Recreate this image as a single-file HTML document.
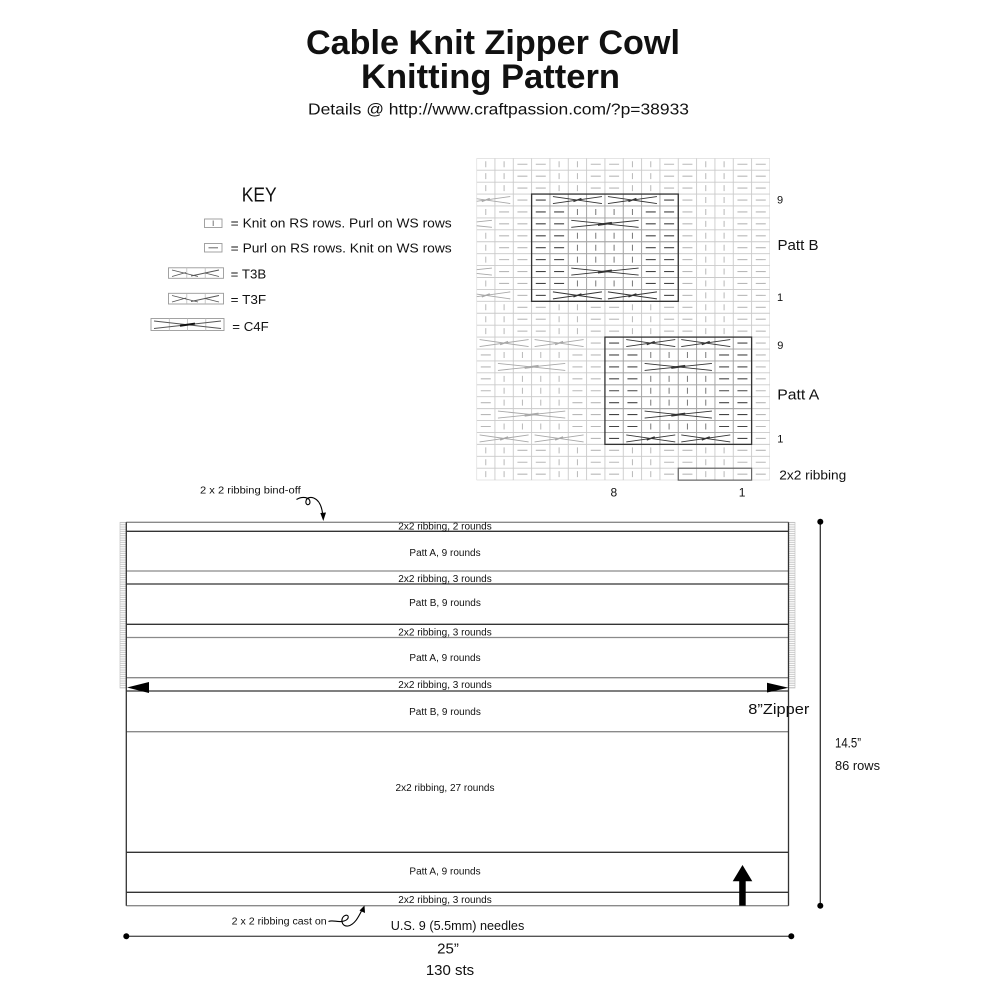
<!DOCTYPE html>
<html><head><meta charset="utf-8"><style>
html,body{margin:0;padding:0;background:#fff;}
svg{display:block;}
text{font-family:"Liberation Sans",Arial,sans-serif;fill:#111;}
</style></head><body>
<svg width="1000" height="1000" viewBox="0 0 1000 1000">
<defs>
<pattern id="hatch" x="0" y="522" width="1000" height="2.2" patternUnits="userSpaceOnUse"><line x1="0" y1="0.6" x2="1000" y2="0.6" stroke="#b8b8b8" stroke-width="0.8"/></pattern>
<clipPath id="chartclip"><rect x="476.6" y="158.3" width="293.3" height="321.9"/></clipPath>
</defs>
<rect width="1000" height="1000" fill="#fff"/>

<!-- Title -->
<text x="306" y="54" font-size="34" font-weight="bold" textLength="374" lengthAdjust="spacingAndGlyphs">Cable Knit Zipper Cowl</text>
<text x="361" y="88" font-size="34" font-weight="bold" textLength="259" lengthAdjust="spacingAndGlyphs">Knitting Pattern</text>
<text x="308" y="114.5" font-size="16" textLength="381" lengthAdjust="spacingAndGlyphs">Details @ http://www.craftpassion.com/?p=38933</text>

<!-- KEY -->
<text x="241.7" y="201.5" font-size="20" textLength="35" lengthAdjust="spacingAndGlyphs">KEY</text>
<rect x="204.5" y="219" width="17.5" height="8.5" fill="none" stroke="#999" stroke-width="0.9"/>
<line x1="213.2" y1="220.5" x2="213.2" y2="226" stroke="#777" stroke-width="1"/>
<text x="230.7" y="227.7" font-size="13" textLength="221" lengthAdjust="spacingAndGlyphs">= Knit on RS rows. Purl on WS rows</text>
<rect x="204.5" y="243.5" width="17.5" height="8.5" fill="none" stroke="#999" stroke-width="0.9"/>
<line x1="208.5" y1="247.8" x2="218" y2="247.8" stroke="#666" stroke-width="1"/>
<text x="230.7" y="252.3" font-size="13" textLength="221" lengthAdjust="spacingAndGlyphs">= Purl on RS rows. Knit on WS rows</text>

<rect x="168.5" y="267.8" width="55" height="10.5" fill="none" stroke="#999" stroke-width="0.9"/>
<line x1="186.8" y1="267.8" x2="186.8" y2="278.3" stroke="#bbb" stroke-width="0.8"/>
<line x1="205.2" y1="267.8" x2="205.2" y2="278.3" stroke="#bbb" stroke-width="0.8"/>
<line x1="172" y1="270" x2="198" y2="276.5" stroke="#555" stroke-width="0.9"/>
<line x1="172" y1="276.5" x2="186" y2="272.5" stroke="#555" stroke-width="0.9"/>
<line x1="191" y1="276" x2="219" y2="270" stroke="#555" stroke-width="0.9"/>
<line x1="205" y1="273" x2="219" y2="276.5" stroke="#555" stroke-width="0.9"/>
<text x="230.7" y="278.3" font-size="13" textLength="35.5" lengthAdjust="spacingAndGlyphs">= T3B</text>

<rect x="168.5" y="293.3" width="55" height="10.7" fill="none" stroke="#999" stroke-width="0.9"/>
<line x1="186.8" y1="293.3" x2="186.8" y2="304" stroke="#bbb" stroke-width="0.8"/>
<line x1="205.2" y1="293.3" x2="205.2" y2="304" stroke="#bbb" stroke-width="0.8"/>
<line x1="172" y1="295.5" x2="198" y2="302" stroke="#555" stroke-width="0.9"/>
<line x1="172" y1="302" x2="186" y2="298" stroke="#555" stroke-width="0.9"/>
<line x1="191" y1="301.5" x2="219" y2="295.5" stroke="#555" stroke-width="0.9"/>
<line x1="205" y1="298.5" x2="219" y2="302" stroke="#555" stroke-width="0.9"/>
<text x="230.7" y="304" font-size="13" textLength="35.5" lengthAdjust="spacingAndGlyphs">= T3F</text>

<rect x="151" y="318.5" width="73" height="12" fill="none" stroke="#999" stroke-width="0.9"/>
<line x1="169.3" y1="318.5" x2="169.3" y2="330.5" stroke="#bbb" stroke-width="0.8"/>
<line x1="187.5" y1="318.5" x2="187.5" y2="330.5" stroke="#bbb" stroke-width="0.8"/>
<line x1="205.8" y1="318.5" x2="205.8" y2="330.5" stroke="#bbb" stroke-width="0.8"/>
<line x1="154" y1="321" x2="221" y2="328.5" stroke="#555" stroke-width="0.9"/>
<line x1="154" y1="328.5" x2="221" y2="321" stroke="#555" stroke-width="0.9"/>
<line x1="180" y1="325.8" x2="195" y2="323.6" stroke="#111" stroke-width="2"/>
<text x="232.3" y="331" font-size="13" textLength="36.4" lengthAdjust="spacingAndGlyphs">= C4F</text>

<!-- Chart -->
<g id="chart" clip-path="url(#chartclip)"></g>
<rect x="531.6" y="194.06" width="146.67" height="107.28" fill="none" stroke="#333" stroke-width="1.3"/>
<rect x="604.93" y="337.1" width="146.67" height="107.28" fill="none" stroke="#333" stroke-width="1.3"/>
<rect x="678.26" y="468.22" width="73.33" height="11.92" fill="none" stroke="#666" stroke-width="1.2"/>

<text x="777" y="203.5" font-size="11">9</text>
<text x="777.5" y="250" font-size="15" textLength="41" lengthAdjust="spacingAndGlyphs">Patt B</text>
<text x="777" y="301" font-size="11">1</text>
<text x="777.3" y="349" font-size="11">9</text>
<text x="777.3" y="399.3" font-size="15" textLength="42" lengthAdjust="spacingAndGlyphs">Patt A</text>
<text x="777.3" y="442.5" font-size="11">1</text>
<text x="779.3" y="479.5" font-size="13" textLength="67" lengthAdjust="spacingAndGlyphs">2x2 ribbing</text>
<text x="610.5" y="496.7" font-size="12">8</text>
<text x="738.8" y="496.7" font-size="12">1</text>

<!-- Schematic -->
<rect x="120" y="522.3" width="6.3" height="165.7" fill="url(#hatch)" stroke="#c4c4c4" stroke-width="0.7"/>
<rect x="788.5" y="522.3" width="6.5" height="165.7" fill="url(#hatch)" stroke="#c4c4c4" stroke-width="0.7"/>

<g stroke-width="1.3">
<line x1="126.3" y1="522.3" x2="788.5" y2="522.3" stroke="#8a8a8a"/>
<line x1="126.3" y1="531.3" x2="788.5" y2="531.3" stroke="#333"/>
<line x1="126.3" y1="571" x2="788.5" y2="571" stroke="#8a8a8a"/>
<line x1="126.3" y1="584" x2="788.5" y2="584" stroke="#333"/>
<line x1="126.3" y1="624.3" x2="788.5" y2="624.3" stroke="#333"/>
<line x1="126.3" y1="637.5" x2="788.5" y2="637.5" stroke="#8a8a8a"/>
<line x1="126.3" y1="677.7" x2="788.5" y2="677.7" stroke="#8a8a8a"/>
<line x1="126.3" y1="691" x2="788.5" y2="691" stroke="#333"/>
<line x1="126.3" y1="731.7" x2="788.5" y2="731.7" stroke="#8a8a8a"/>
<line x1="126.3" y1="852.3" x2="788.5" y2="852.3" stroke="#333"/>
<line x1="126.3" y1="892.3" x2="788.5" y2="892.3" stroke="#333"/>
<line x1="126.3" y1="905.7" x2="788.5" y2="905.7" stroke="#8a8a8a"/>
<line x1="126.3" y1="522.3" x2="126.3" y2="905.7" stroke="#333"/>
<line x1="788.5" y1="522.3" x2="788.5" y2="905.7" stroke="#333"/>
</g>

<g font-size="10" text-anchor="middle">
<text x="445" y="529.5">2x2 ribbing, 2 rounds</text>
<text x="445" y="556.2">Patt A, 9 rounds</text>
<text x="445" y="581.8">2x2 ribbing, 3 rounds</text>
<text x="445" y="606.2">Patt B, 9 rounds</text>
<text x="445" y="635.5">2x2 ribbing, 3 rounds</text>
<text x="445" y="661.2">Patt A, 9 rounds</text>
<text x="445" y="687.8">2x2 ribbing, 3 rounds</text>
<text x="445" y="715.2">Patt B, 9 rounds</text>
<text x="445" y="790.8">2x2 ribbing, 27 rounds</text>
<text x="445" y="874.5">Patt A, 9 rounds</text>
<text x="445" y="902.8">2x2 ribbing, 3 rounds</text>
</g>

<!-- zipper arrows -->
<polygon points="127,687.5 149,682 149,693" fill="#000"/>
<polygon points="788.5,687.7 767,682.7 767,692.5" fill="#000"/>
<text x="748.3" y="714" font-size="15" textLength="61" lengthAdjust="spacingAndGlyphs">8”Zipper</text>

<!-- bind-off -->
<text x="200" y="493.5" font-size="10" textLength="100.7" lengthAdjust="spacingAndGlyphs">2 x 2 ribbing bind-off</text>
<path d="M296.5 499.5 C302 496, 310 497, 310 502 C310 506, 305 505.5, 306 501 C307 495, 320 495, 322.5 513" fill="none" stroke="#000" stroke-width="1.1"/>
<polygon points="323.3,521 320.3,513 326,512.5" fill="#000"/>

<!-- cast on -->
<text x="231.7" y="924.5" font-size="10" textLength="95" lengthAdjust="spacingAndGlyphs">2 x 2 ribbing cast on</text>
<path d="M328.5 921.5 C333 919.5, 338 923, 344 921 C350 919, 349 914, 345 915.5 C340 917.5, 341 927, 348 926 C355 924.5, 359 916, 362 910" fill="none" stroke="#000" stroke-width="1.1"/>
<polygon points="364.5,905.5 359.5,910.5 365,913" fill="#000"/>

<text x="390.7" y="930" font-size="13" textLength="133.6" lengthAdjust="spacingAndGlyphs">U.S. 9 (5.5mm) needles</text>

<!-- up arrow -->
<rect x="739.2" y="880" width="6.5" height="25.7" fill="#000"/>
<polygon points="742.5,865 732.7,881.3 752.3,881.3" fill="#000"/>

<!-- dimension lines -->
<line x1="126.3" y1="936.3" x2="791.3" y2="936.3" stroke="#555" stroke-width="1.3"/>
<circle cx="126.3" cy="936.3" r="3" fill="#000"/>
<circle cx="791.3" cy="936.3" r="3" fill="#000"/>
<text x="448" y="953.3" font-size="15" text-anchor="middle">25”</text>
<text x="450" y="975" font-size="15" text-anchor="middle" textLength="48.3" lengthAdjust="spacingAndGlyphs">130 sts</text>

<line x1="820.3" y1="521.7" x2="820.3" y2="905.7" stroke="#333" stroke-width="1.3"/>
<circle cx="820.3" cy="521.7" r="3" fill="#000"/>
<circle cx="820.3" cy="905.7" r="3" fill="#000"/>
<text x="835" y="747.3" font-size="13.5" textLength="26" lengthAdjust="spacingAndGlyphs">14.5”</text>
<text x="835" y="770" font-size="13" textLength="45" lengthAdjust="spacingAndGlyphs">86 rows</text>
</svg>
<script>
(function(){
var L=476.6,T=158.3,CW=18.333,RH=11.92,s='';
function ln(x1,y1,x2,y2,c,w){s+='<line x1="'+x1.toFixed(2)+'" y1="'+y1.toFixed(2)+'" x2="'+x2.toFixed(2)+'" y2="'+y2.toFixed(2)+'" stroke="'+c+'" stroke-width="'+(w||1)+'"/>';}
var c,r;
for(c=0;c<=16;c++) ln(L+c*CW,T,L+c*CW,T+27*RH,'#cacaca',0.9);
for(r=0;r<=27;r++) ln(L,T+r*RH,L+16*CW,T+r*RH,'#cacaca',0.9);
function boxgrid(c0,r0,nc,nr){var i;for(i=c0;i<=c0+nc;i++) ln(L+i*CW,T+r0*RH,L+i*CW,T+(r0+nr)*RH,'#a4a4a4',0.9);for(i=r0;i<=r0+nr;i++) ln(L+c0*CW,T+i*RH,L+(c0+nc)*CW,T+i*RH,'#a4a4a4',0.9);}
boxgrid(3,3,8,9);boxgrid(7,15,8,9);
function K(c,r,col){var cx=L+(c+.5)*CW,cy=T+(r+.5)*RH;ln(cx,cy-3,cx,cy+3,col,1);}
function P(c,r,col){var cx=L+(c+.5)*CW,cy=T+(r+.5)*RH;ln(cx-5,cy,cx+5,cy,col,1.1);}
function X(c,r,n,col,thick){var x0=L+c*CW+3,x1=L+(c+n)*CW-3,cy=T+(r+.5)*RH;ln(x0,cy-3.5,x1,cy+3.5,col,0.9);ln(x0,cy+3.5,x1,cy-3.5,col,0.9);var mx=(x0+x1)/2;if(thick){ln(mx-7,cy+1,mx+7,cy-1,col,2);}else{ln(mx-4,cy+1.5,mx+4,cy-1.5,col,1.4);}}
var LIGHT='#b8b8b8';
function ribSym(c,r){if(c%4<2)K(c,r,LIGHT);else P(c,r,LIGHT);}
function rib(r){for(var c=0;c<16;c++)ribSym(c,r);}
var pat={9:'PxxxxxxP',1:'PxxxxxxP',7:'PPxxxxPP',3:'PPxxxxPP'};
function pattRow(r,pn,off,cmax,b0,b1){
 var p=pat[pn]||'PPKKKKPP';
 for(var c=0;c<=cmax;c++){var pos=((c-off)%8+8)%8;var ch=p.charAt(pos);var inb=(c>=b0&&c<=b1);
  if(ch=='K')K(c,r,inb?'#777':LIGHT);else if(ch=='P')P(c,r,inb?'#444':LIGHT);}
 var cabs=(pn==9||pn==1)?[[1,3],[4,3]]:((pn==7||pn==3)?[[2,4]]:[]);
 for(var k=-2;k<=2;k++){for(var j=0;j<cabs.length;j++){var sc=off+cabs[j][0]+8*k,n=cabs[j][1];
  if(sc+n-1<0||sc>cmax)continue;var dark=(sc>=b0&&sc<=b1);X(sc,r,n,dark?'#333':'#a8a8a8',n==4);}}
}
for(r=0;r<27;r++){
 if(r<3||(r>=12&&r<=14)||r>=24){rib(r);}
 else if(r>=3&&r<=11){pattRow(r,9-(r-3),3,10,3,10);for(c=11;c<16;c++)ribSym(c,r);}
 else {pattRow(r,9-(r-15),7,15,7,14);}
}
document.getElementById('chart').innerHTML=s;
})();
</script>
</body></html>
